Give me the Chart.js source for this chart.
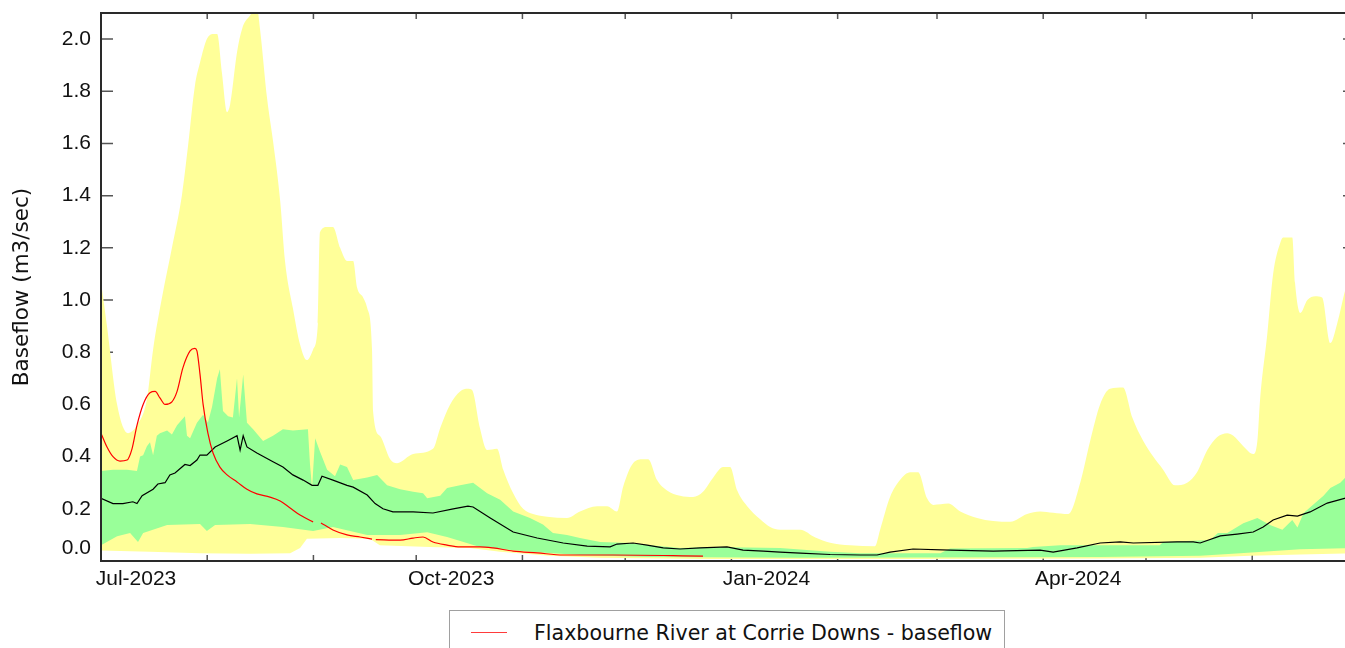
<!DOCTYPE html>
<html>
<head>
<meta charset="utf-8">
<script src="https://cdn.jsdelivr.net/npm/chart.js@4.4.1/dist/chart.umd.min.js"></script>
<style>
  html, body { margin:0; padding:0; background:#fff; overflow:hidden; width:1345px; height:648px; }
  #wrap { position:relative; width:1345px; height:648px; overflow:hidden; }
  canvas { position:absolute; left:0; top:0; }
  #legend { position:absolute; left:449px; top:610px; width:556px; height:50px; border:1px solid #a0a0a0; background:#fff; box-sizing:border-box; }
  #legend .swatch { position:absolute; left:21px; top:21px; width:36px; height:1px; background:#ff3b3b; }
  #legend .txt { position:absolute; left:84px; top:9px; font-family:"DejaVu Sans", Tahoma, sans-serif; font-size:20.6px; line-height:26px; color:#111; white-space:nowrap; }
</style>
</head>
<body>
<div id="wrap">
  <canvas id="c" width="1360" height="648"></canvas>
  <div id="legend"><span class="swatch"></span><span class="txt">Flaxbourne River at Corrie Downs - baseflow</span></div>
</div>
<script>
// x values are days since 1 Jul 2023
const monthTicks = [0,31,62,92,123,153,184,215,244,275,305,336,366];
const monthLabels = ['Jul-2023','','','Oct-2023','','','Jan-2024','','','Apr-2024','','',''];
const yTicks = [0,0.2,0.4,0.6,0.8,1.0,1.2,1.4,1.6,1.8,2.0];

// Historical maximum (yellow band top)
const yellowMax = [[0,1.07],[1.75,0.90],[4.7,0.60],[7.9,0.49],[10.5,0.52],[13.4,0.62],[15.2,0.81],[17.8,1.01],[20.7,1.20],[23.6,1.40],
 [25.4,1.59],[27.4,1.82],[28.9,1.91],[30.9,2.00],[32.7,2.02],[33.9,2.02],[35.3,1.87],[36.8,1.72],[37.7,1.75],[39.7,1.95],
 [41.2,2.04],[43.5,2.09],[45.5,2.12],[46.4,2.04],[48.5,1.77],[50.2,1.61],[52.3,1.38],[53.7,1.15],[56.0,0.97],[58.1,0.83],
 [60.1,0.77],[61.9,0.81],[63.3,0.91],[63.9,1.26],[66.0,1.28],[67.7,1.28],[69.8,1.20],[71.8,1.15],[73.6,1.15],[74.7,1.05],
 [76.5,1.01],[77.7,0.97],[79.1,0.81],[79.4,0.575],[81.4,0.48],[84.4,0.39],[86.4,0.375],[91.1,0.41],[96.9,0.43],[99.0,0.51],
 [101.9,0.60],[104.8,0.65],[107.1,0.66],[108.3,0.655],[110.6,0.51],[112.7,0.425],[115.6,0.43],[117.4,0.35],[120.3,0.26],[123.2,0.20],
 [126.1,0.18],[130.2,0.17],[136.0,0.165],[139.8,0.19],[144.8,0.21],[147.7,0.21],[150.6,0.19],[152.4,0.285],[155.3,0.375],[158.2,0.39],
 [159.7,0.39],[162.3,0.31],[165.2,0.27],[169.0,0.25],[172.8,0.245],[175.7,0.265],[178.7,0.32],[181.6,0.36],[183.6,0.36],[185.7,0.27],
 [188.6,0.21],[192.4,0.16],[195.3,0.13],[198.2,0.12],[204.1,0.12],[208.5,0.09],[212.8,0.07],[218.6,0.06],[225.9,0.057],[227.4,0.12],
 [230.3,0.245],[233.2,0.31],[236.2,0.34],[238.5,0.34],[241.1,0.24],[242.9,0.215],[247.3,0.22],[250.8,0.19],[255.7,0.165],[260.4,0.153],
 [265.4,0.15],[270.3,0.18],[274.1,0.19],[277.9,0.185],[282.3,0.18],[285.8,0.30],[288.7,0.46],[291.6,0.60],[294.5,0.66],[298.3,0.665],
 [301.0,0.55],[304.2,0.46],[307.1,0.40],[310.0,0.35],[313.5,0.29],[317.0,0.30],[319.9,0.34],[322.9,0.425],[325.8,0.475],[328.7,0.49],
 [330.5,0.48],[333.4,0.44],[336.3,0.41],[337.5,0.46],[338.3,0.62],[340.4,0.87],[342.1,1.10],[344.2,1.22],[345.0,1.24],[347.7,1.24],
 [348.5,1.065],[350.0,0.95],[352.1,1.00],[354.4,1.015],[356.4,1.01],[358.8,0.835],[360.8,0.91],[363.2,1.04],[366,1.15]];

// Historical minimum (yellow band bottom)
const yellowMin = [[0,0.04],[14.3,0.035],[28.9,0.03],[43.5,0.028],[55.2,0.03],[58.1,0.05],[60.1,0.085],[69.8,0.088],[78.5,0.085],
 [81.4,0.06],[96.0,0.054],[107.7,0.05],[116.5,0.035],[131,0.02],[145.7,0.012],[175,0.008],[233,0.008],[291.6,0.01],[320.8,0.012],
 [335.4,0.02],[350,0.025],[366,0.03]];

// Upper quartile (green band top)
const greenUpper = [[0,0.345],[3.5,0.35],[7.6,0.35],[10.5,0.345],[11.4,0.40],[12.3,0.405],[13.4,0.44],[14.3,0.455],[15.2,0.405],[16.3,0.48],
 [17.2,0.49],[19.3,0.50],[20.7,0.485],[22.2,0.52],[24.5,0.555],[25.1,0.48],[26.0,0.47],[28.0,0.53],[29.8,0.56],[31.2,0.53],
 [32.4,0.59],[33.9,0.70],[34.7,0.735],[35.6,0.575],[37.1,0.555],[38.5,0.55],[39.7,0.70],[40.3,0.55],[41.5,0.715],[42.6,0.53],
 [44.4,0.505],[47.3,0.46],[50.2,0.48],[53.1,0.505],[56.0,0.50],[60.4,0.505],[61.0,0.37],[61.6,0.28],[62.5,0.47],[63.9,0.42],
 [66.0,0.35],[68.3,0.325],[69.8,0.37],[71.8,0.36],[73.6,0.31],[77.7,0.32],[80.6,0.33],[83.5,0.29],[87.3,0.275],[91.1,0.265],
 [94.0,0.26],[95.2,0.24],[99.0,0.25],[101.0,0.28],[104.8,0.29],[108.6,0.30],[112.7,0.26],[116.5,0.235],[120.3,0.19],[125.2,0.165],
 [129.0,0.14],[131.9,0.107],[136.0,0.10],[139.8,0.088],[145.7,0.073],[154.4,0.069],[159.4,0.061],[169.0,0.05],[178.7,0.054],[198.2,0.05],
 [212.8,0.035],[221.6,0.03],[245,0.03],[247.8,0.048],[270.3,0.05],[272,0.054],[280,0.06],[309,0.06],[310,0.073],[323.7,0.08],
 [326,0.107],[328.7,0.107],[333.4,0.145],[337.5,0.165],[341.2,0.138],[344.8,0.12],[347.7,0.157],[349.2,0.128],[351,0.184],[356.8,0.25],
 [358.8,0.28],[361.7,0.30],[363.2,0.32],[366,0.33]];

// Lower quartile (green band bottom)
const greenLower = [[0,0.06],[4.7,0.095],[8.5,0.107],[10.8,0.073],[12.3,0.107],[19.3,0.138],[28.9,0.142],[30.9,0.115],[33.3,0.138],
 [43.5,0.142],[53.1,0.13],[61.9,0.115],[67.7,0.13],[77.7,0.10],[87.3,0.10],[95.2,0.11],[101.0,0.092],[110.6,0.054],[125.2,0.035],
 [139.8,0.023],[160,0.015],[204,0.012],[291.6,0.015],[320.8,0.02],[332.5,0.03],[350,0.045],[366,0.05]];

// Median (black line)
const median = [[0,0.24],[3.5,0.22],[6.4,0.22],[9.3,0.227],[10.5,0.22],[12.0,0.25],[15.2,0.275],[16.6,0.295],[18.7,0.30],[20.1,0.33],
 [21.6,0.337],[24.5,0.37],[26.0,0.366],[28.0,0.387],[28.9,0.406],[30.9,0.406],[33.3,0.437],[36.8,0.46],[39.7,0.48],[40.6,0.425],
 [41.5,0.48],[42.6,0.437],[45.5,0.414],[50.2,0.38],[53.1,0.36],[56.0,0.33],[59.0,0.31],[61.6,0.29],[63.3,0.29],[64.5,0.325],
 [67.7,0.31],[71.8,0.29],[73.6,0.283],[77.7,0.253],[80.0,0.22],[82.3,0.20],[85.2,0.188],[91.1,0.188],[96.9,0.184],[102.8,0.20],
 [107.1,0.21],[108.6,0.207],[113.6,0.165],[120.3,0.111],[127.3,0.088],[134.9,0.069],[141.9,0.057],[148.6,0.054],[150.6,0.065],[155.3,0.069],
 [159.4,0.061],[164.1,0.05],[169.0,0.046],[174.9,0.05],[182.7,0.054],[187.4,0.042],[193.3,0.038],[198.2,0.034],[204.1,0.03],[212.8,0.025],
 [221.6,0.023],[226.5,0.023],[230.3,0.034],[237.0,0.046],[247.8,0.042],[260.4,0.038],[274.1,0.042],[277.9,0.034],[284.9,0.05],[291.6,0.069],
 [297.5,0.073],[301.3,0.069],[314.1,0.073],[318.8,0.073],[320.8,0.069],[326.7,0.096],[331.6,0.103],[336.3,0.111],[339.2,0.13],[342.1,0.157],
 [346.2,0.176],[349.2,0.172],[352.9,0.188],[357.9,0.222],[363.2,0.241],[366,0.25]];

// Current season baseflow (red line); null = missing data
const baseflow = [[0,0.49],[1.75,0.437],[3.5,0.40],[5.55,0.383],[7.6,0.387],[9.05,0.43],[10.5,0.52],[12.3,0.60],[14.3,0.645],[15.8,0.65],
 [17.2,0.625],[18.7,0.60],[20.7,0.61],[22.2,0.65],[23.9,0.74],[26.0,0.805],[27.4,0.815],[28.0,0.805],[28.9,0.715],[29.8,0.60],
 [31.2,0.49],[32.7,0.414],[34.7,0.36],[36.8,0.33],[39.7,0.303],[42.6,0.275],[45.5,0.257],[49.3,0.245],[52.3,0.23],[55.2,0.203],
 [58.1,0.176],[61.9,0.15],[63.0,null],[64.2,0.146],[67.7,0.119],[71.8,0.10],[75.6,0.092],[79.1,0.084],[79.6,null],[80.2,0.082],
 [87.3,0.08],[91.1,0.088],[94.0,0.092],[96.9,0.073],[101.0,0.061],[104.8,0.054],[110.6,0.054],[114.4,0.05],[120.3,0.038],[127.3,0.031],
 [134.9,0.023],[149.5,0.023],[175.7,0.019]];

const pts = a => a.map(p => ({x: p[0], y: p[1]}));

const tickFont = {family: '"Liberation Sans", Arial, sans-serif', size: 21};

const decor = {
  id: 'decor',
  beforeDatasetsDraw(chart) {
    const {ctx, chartArea: a, scales: {x, y}} = chart;
    ctx.save();
    ctx.strokeStyle = '#555';
    ctx.lineWidth = 1.5;
    ctx.beginPath();
    for (const t of yTicks) {
      const py = y.getPixelForValue(t);
      ctx.moveTo(a.left, py); ctx.lineTo(a.left + 12, py);
      ctx.moveTo(a.right, py); ctx.lineTo(a.right - 12, py);
    }
    for (const t of monthTicks) {
      const px = x.getPixelForValue(t);
      ctx.moveTo(px, a.bottom); ctx.lineTo(px, a.bottom - 6);
      ctx.moveTo(px, a.top); ctx.lineTo(px, a.top + 6);
    }
    ctx.stroke();
    ctx.restore();
  },
  afterDatasetsDraw(chart) {
    const {ctx, chartArea: a} = chart;
    ctx.save();
    ctx.strokeStyle = '#2a2a2a';
    ctx.lineWidth = 2;
    ctx.strokeRect(a.left, a.top, a.right - a.left, a.bottom - a.top);
    ctx.restore();
  },
  afterDraw(chart) {
    const {ctx, chartArea: a} = chart;
    ctx.save();
    ctx.font = '21px "Liberation Sans", Arial, sans-serif';
    ctx.fillStyle = '#111';
    ctx.textAlign = 'right';
    ctx.textBaseline = 'middle';
    ctx.fillText(yTicks[0].toFixed(1), a.left - 10, a.bottom - 12.5);
    ctx.restore();
  }
};

new Chart(document.getElementById('c'), {
  type: 'line',
  data: {
    datasets: [
      {label: 'max', data: pts(yellowMax), fill: '+1', backgroundColor: '#ffff99', borderWidth: 0, pointRadius: 0, cubicInterpolationMode: 'monotone', order: 4},
      {label: 'min', data: pts(yellowMin), fill: false, borderWidth: 0, pointRadius: 0, order: 5},
      {label: 'upper', data: pts(greenUpper), fill: '+1', backgroundColor: '#99ff99', borderWidth: 0, pointRadius: 0, order: 3},
      {label: 'lower', data: pts(greenLower), fill: false, borderWidth: 0, pointRadius: 0, order: 6},
      {label: 'median', data: pts(median), fill: false, borderColor: '#000', borderWidth: 1.2, pointRadius: 0, order: 2},
      {label: 'Flaxbourne River at Corrie Downs - baseflow', data: pts(baseflow), fill: false, borderColor: '#ff0000', borderWidth: 1.2, pointRadius: 0, spanGaps: false, cubicInterpolationMode: 'monotone', order: 1}
    ]
  },
  options: {
    responsive: false,
    animation: false,
    devicePixelRatio: 1,
    layout: {padding: {top: 13, right: 5, left: 0, bottom: 0}},
    plugins: {legend: {display: false}, tooltip: {enabled: false}},
    scales: {
      x: {
        type: 'linear', min: 0, max: 366,
        afterBuildTicks: s => { s.ticks = monthTicks.map(v => ({value: v})); },
        afterFit: s => { s.height = 87; s.paddingLeft = 0; s.paddingRight = 0; s.paddingTop = 0; s.paddingBottom = 0; },
        grid: {display: false, drawTicks: false},
        border: {display: false},
        ticks: {
          autoSkip: false, maxRotation: 0, padding: 6, labelOffset: 35, color: '#111', font: tickFont,
          callback: (v) => { const i = monthTicks.indexOf(v); return i >= 0 ? monthLabels[i] : ''; }
        }
      },
      y: {
        type: 'linear', min: 0, max: 2.1,
        afterBuildTicks: s => { s.ticks = yTicks.map(v => ({value: v})); },
        afterFit: s => { s.width = 101; s.paddingTop = 0; s.paddingBottom = 0; s.paddingLeft = 0; s.paddingRight = 0; },
        grid: {display: false, drawTicks: false},
        border: {display: false},
        ticks: {padding: 10, color: '#111', font: tickFont, callback: v => v === 0 ? '' : v.toFixed(1)},
        title: {display: true, text: 'Baseflow (m3/sec)', color: '#111', padding: {top: 10, bottom: 0},
                font: {family: '"DejaVu Sans", Tahoma, sans-serif', size: 21.5}}
      }
    }
  },
  plugins: [decor]
});
</script>
</body>
</html>
